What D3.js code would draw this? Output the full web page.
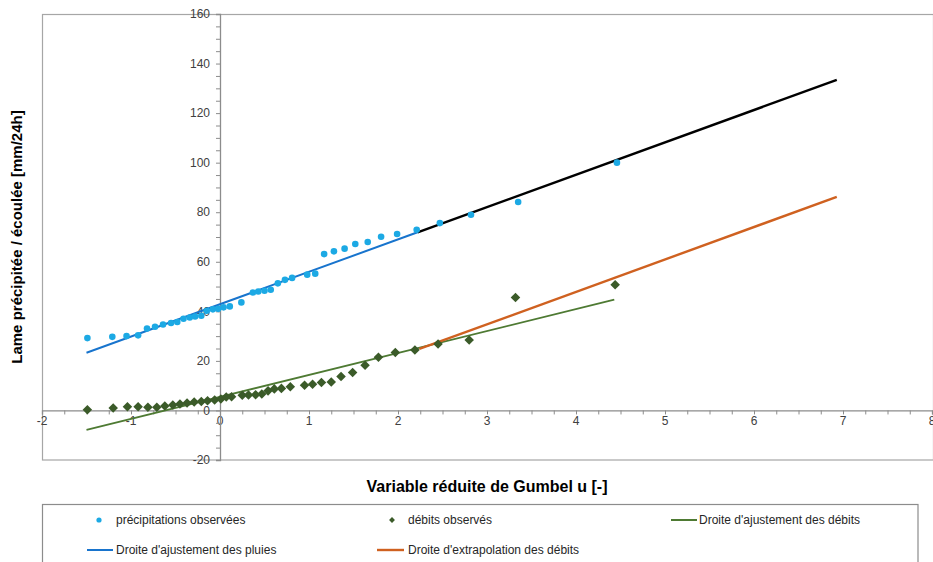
<!DOCTYPE html>
<html><head><meta charset="utf-8">
<script src="https://cdn.jsdelivr.net/npm/d3@7"></script>
<style>
body{margin:0;background:#fff;}
svg{display:block;font-family:"Liberation Sans",Arial,sans-serif;}
</style></head>
<body><svg id="c" width="933" height="562"></svg>
<script>
// Gumbel reduced variable u and observed precipitation (mm/24h)
const precipU = [-1.49,-1.21,-1.05,-0.92,-0.82,-0.73,-0.64,-0.55,-0.48,-0.41,-0.34,-0.28,-0.21,-0.15,-0.08,-0.02,0.04,0.11,0.24,0.37,0.43,0.50,0.57,0.65,0.73,0.81,0.98,1.07,1.17,1.28,1.40,1.52,1.66,1.81,1.99,2.21,2.47,2.82,3.35,4.46];
const precipV = [29.2,29.7,30.0,30.3,33.1,33.8,34.7,35.3,35.7,37.0,37.5,37.9,38.2,40.2,40.8,41.0,41.6,42.0,43.6,47.6,48.0,48.3,48.7,51.3,52.7,53.5,54.8,55.2,63.1,64.2,65.3,67.2,68.0,70.1,71.2,72.9,75.6,79.0,84.1,100.0];
// observed discharges (mm/24h)
const debitU = [-1.49,-1.20,-1.04,-0.92,-0.81,-0.71,-0.62,-0.53,-0.45,-0.37,-0.29,-0.21,-0.14,-0.06,0.01,0.07,0.13,0.25,0.32,0.40,0.47,0.54,0.61,0.69,0.79,0.95,1.04,1.14,1.25,1.36,1.49,1.63,1.78,1.97,2.19,2.45,2.80,3.32,4.44];
const debitV = [0.3,1.0,1.5,1.5,1.3,1.3,1.8,2.2,2.6,3.0,3.4,3.6,3.9,4.2,4.6,5.4,5.5,6.1,6.2,6.3,6.6,7.9,8.7,8.9,9.6,10.2,10.6,11.3,11.5,13.7,15.3,18.2,21.5,23.4,24.4,26.8,28.4,45.6,50.7];
// fitted / extrapolated lines (u, value)
const rainFitU = [-1.50, 2.22], rainFitV = [23.3, 71.9];
const rainExtU = [2.22, 6.93], rainExtV = [71.9, 133.4];
const flowFitU = [-1.50, 4.43], flowFitV = [-7.8, 44.7];
const flowExtU = [2.24, 6.93], flowExtV = [24.8, 86.2];
const xTicks = [-2,-1,0,1,2,3,4,5,6,7,8];
const yTicks = [-20,0,20,40,60,80,100,120,140,160];
const legendLabels = ["précipitations observées","débits observés","Droite d'ajustement des débits","Droite d'ajustement des pluies","Droite d'extrapolation des débits"];

const svg = d3.select("#c");
const x = d3.scaleLinear().domain([-2,8]).range([42,932]);
const y = d3.scaleLinear().domain([-20,160]).range([460,14]);
const C = {dot:"#1CA9E4", rain:"#1874CD", dia:"#3B5B29", flow:"#4E7A33", ext:"#CF6120", black:"#000", axis:"#8C8C8C", txt:"#404040"};

// plot border
svg.append("rect").attr("x",42.5).attr("y",14.5).attr("width",891).attr("height",445.5)
  .attr("fill","none").attr("stroke","#A6A6A6").attr("stroke-width",1.2);

// x axis at y=0
const xMinor = d3.range(-2,8.001,0.25);
const gx = svg.append("g").attr("transform",`translate(0,${y(0)})`);
gx.call(d3.axisBottom(x).tickValues(xMinor).tickSize(4).tickFormat(""));
gx.call(g=>g.selectAll(".domain").attr("stroke",C.axis).attr("stroke-width",1.3));
gx.call(g=>g.selectAll(".tick line").attr("stroke",C.axis));
gx.selectAll(".lbl").data(xTicks).join("text").attr("class","lbl")
  .attr("x",d=>x(d)).attr("y",15).attr("text-anchor","middle")
  .attr("font-size",12).attr("fill",C.txt).text(d=>d);

// y axis at x=0
const yMinor = d3.range(-20,160.001,5);
const gy = svg.append("g").attr("transform",`translate(${x(0)},0)`);
gy.call(d3.axisLeft(y).tickValues(yMinor).tickSize(4).tickFormat(""));
gy.call(g=>g.selectAll(".domain").attr("stroke",C.axis).attr("stroke-width",1.3));
gy.call(g=>g.selectAll(".tick line").attr("stroke",C.axis));
gy.selectAll(".lbl").data(yTicks).join("text").attr("class","lbl")
  .attr("x",-10).attr("y",d=>y(d)).attr("dy","0.35em").attr("text-anchor","end")
  .attr("font-size",12).attr("fill",C.txt).text(d=>d);

const line = d3.line().x(d=>x(d[0])).y(d=>y(d[1]));
function drawLine(us,vs,color,w){
  svg.append("path").datum(us.map((u,i)=>[u,vs[i]])).attr("d",line)
    .attr("fill","none").attr("stroke",color).attr("stroke-width",w);
}
drawLine(rainFitU,rainFitV,C.rain,2);
drawLine(rainExtU,rainExtV,C.black,2.4);
drawLine(flowFitU,flowFitV,C.flow,1.8);
drawLine(flowExtU,flowExtV,C.ext,2.4);

// points
svg.append("g").selectAll("circle").data(precipU.map((u,i)=>[u,precipV[i]])).join("circle")
  .attr("cx",d=>x(d[0])).attr("cy",d=>y(d[1])).attr("r",3.3).attr("fill",C.dot);
const diamond = d3.symbol().type(d3.symbolDiamond2).size(58);
svg.append("g").selectAll("path").data(debitU.map((u,i)=>[u,debitV[i]])).join("path")
  .attr("d",diamond).attr("transform",d=>`translate(${x(d[0])},${y(d[1])})`).attr("fill",C.dia);

// axis titles
svg.append("text").attr("x",487).attr("y",492).attr("text-anchor","middle")
  .attr("font-size",16).attr("font-weight","bold").attr("fill","#000")
  .text("Variable réduite de Gumbel u [-]");
svg.append("text").attr("transform",`translate(22,${(14+460)/2}) rotate(-90)`).attr("text-anchor","middle")
  .attr("font-size",15).attr("font-weight","bold").attr("fill","#000")
  .text("Lame précipitée / écoulée [mm/24h]");

// legend
svg.append("rect").attr("x",42.5).attr("y",504.5).attr("width",875.5).attr("height",80)
  .attr("fill","none").attr("stroke","#8C8C8C").attr("stroke-width",1.2);
const lg = svg.append("g").attr("font-size",12).attr("fill","#262626");
const items = [
  {t:legendLabels[0], type:"dot", mx:99, tx:116, y:520},
  {t:legendLabels[1], type:"dia", mx:392, tx:408, y:520},
  {t:legendLabels[2], type:"line", c:C.flow, x0:671, x1:697, tx:699, y:520, w:2},
  {t:legendLabels[3], type:"line", c:C.rain, x0:87, x1:113, tx:116, y:550, w:2},
  {t:legendLabels[4], type:"line", c:C.ext, x0:377, x1:404, tx:408, y:550, w:2.4}
];
items.forEach(it=>{
  if(it.type==="dot") lg.append("circle").attr("cx",it.mx).attr("cy",it.y).attr("r",2.6).attr("fill",C.dot);
  else if(it.type==="dia") lg.append("path").attr("d",d3.symbol().type(d3.symbolDiamond2).size(22)).attr("transform",`translate(${it.mx},${it.y})`).attr("fill",C.dia);
  else lg.append("line").attr("x1",it.x0).attr("x2",it.x1).attr("y1",it.y).attr("y2",it.y).attr("stroke",it.c).attr("stroke-width",it.w);
  lg.append("text").attr("x",it.tx).attr("y",it.y).attr("dy","0.35em").text(it.t);
});
</script></body></html>
